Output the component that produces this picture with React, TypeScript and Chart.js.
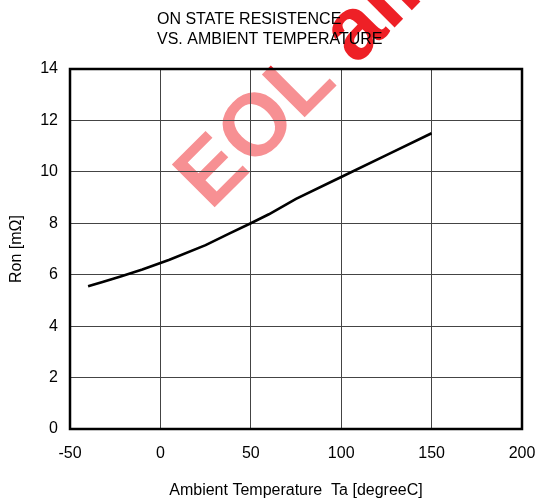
import { useEffect, useRef } from "react";
import { Chart, registerables } from "chart.js";

Chart.register(...registerables);

// Ron versus ambient temperature
const temperatures = [-40, -32, -22, -10, 5, 25, 38, 50, 60, 75, 100, 125, 150];
const ronValues = [5.55, 5.72, 5.93, 6.2, 6.58, 7.15, 7.6, 8.0, 8.35, 8.95, 9.8, 10.65, 11.5];

const xTickValues = [-50, 0, 50, 100, 150, 200];
const yTickValues = [0, 2, 4, 6, 8, 10, 12, 14];

const titleLines = ["ON STATE RESISTENCE", "VS. AMBIENT TEMPERATURE"];
const xAxisTitle = "Ambient Temperature  Ta [degreeC]";
const yAxisTitle = "Ron [mΩ]";
const watermarkText = "EOL all";

const FONT = '"Liberation Sans", Arial, Helvetica, sans-serif';

// Red stamp behind the plot, washed out inside the plot area
const backdropPlugin = {
  id: "backdrop",
  beforeDraw(chart: any) {
    const { ctx, chartArea } = chart;
    ctx.save();
    ctx.fillStyle = "#ffffff";
    ctx.fillRect(0, 0, chart.width, chart.height);
    ctx.translate(210.5, 211.5);
    ctx.rotate(-Math.PI / 4);
    ctx.font = `bold 88px ${FONT}`;
    ctx.fillStyle = "rgb(238, 32, 38)";
    ctx.textAlign = "left";
    ctx.textBaseline = "alphabetic";
    ctx.fillText(watermarkText, 0, 0);
    ctx.restore();

    ctx.save();
    ctx.fillStyle = "rgba(255,255,255,0.5)";
    ctx.fillRect(
      chartArea.left,
      chartArea.top,
      chartArea.right - chartArea.left,
      chartArea.bottom - chartArea.top
    );
    ctx.restore();
  },
};

// Heavy frame around the plot and the two-line heading
const framePlugin = {
  id: "frameAndHeading",
  afterDraw(chart: any) {
    const { ctx, chartArea } = chart;
    ctx.save();
    ctx.strokeStyle = "#000000";
    ctx.lineWidth = 2.5;
    ctx.strokeRect(
      chartArea.left,
      chartArea.top,
      chartArea.right - chartArea.left,
      chartArea.bottom - chartArea.top
    );
    ctx.fillStyle = "#000000";
    ctx.font = `16px ${FONT}`;
    ctx.textAlign = "left";
    ctx.textBaseline = "alphabetic";
    titleLines.forEach((line, i) => {
      ctx.fillText(line, 157, 23.5 + i * 20.5);
    });
    ctx.restore();
  },
};

export default function App() {
  const canvasRef = useRef<HTMLCanvasElement | null>(null);

  useEffect(() => {
    const canvas = canvasRef.current;
    if (!canvas) return;

    const points = temperatures.map((t, i) => ({ x: t, y: ronValues[i] }));

    const chart = new Chart(canvas, {
      type: "line",
      data: {
        datasets: [
          {
            data: points,
            borderColor: "#000000",
            borderWidth: 2.6,
            pointRadius: 0,
            tension: 0,
            fill: false,
          },
        ],
      },
      options: {
        responsive: false,
        animation: false,
        events: [],
        layout: { padding: { left: 0, top: 69, right: 16, bottom: 0 } },
        plugins: {
          legend: { display: false },
          tooltip: { enabled: false },
          title: { display: false },
        },
        scales: {
          x: {
            type: "linear",
            min: -50,
            max: 200,
            afterBuildTicks: (scale: any) => {
              scale.ticks = xTickValues.map((v) => ({ value: v }));
            },
            afterFit: (scale: any) => {
              scale.height = 72;
              scale.paddingLeft = 0;
              scale.paddingRight = 0;
            },
            border: { display: false },
            grid: { color: "#444444", lineWidth: 1, drawTicks: false },
            ticks: {
              padding: 15,
              color: "#000000",
              maxRotation: 0,
              autoSkip: false,
              font: { family: FONT, size: 16 },
            },
            title: {
              display: true,
              text: xAxisTitle,
              color: "#000000",
              font: { family: FONT, size: 16 },
              padding: { top: 0, bottom: 1 },
            },
          },
          y: {
            type: "linear",
            min: 0,
            max: 14,
            afterBuildTicks: (scale: any) => {
              scale.ticks = yTickValues.map((v) => ({ value: v }));
            },
            afterFit: (scale: any) => {
              scale.width = 70;
              scale.paddingTop = 0;
              scale.paddingBottom = 0;
            },
            border: { display: false },
            grid: { color: "#444444", lineWidth: 1, drawTicks: false },
            ticks: {
              padding: 12,
              color: "#000000",
              autoSkip: false,
              font: { family: FONT, size: 16 },
            },
            title: {
              display: true,
              text: yAxisTitle,
              color: "#000000",
              font: { family: FONT, size: 16 },
              padding: { top: 7, bottom: 0 },
            },
          },
        },
      },
      plugins: [backdropPlugin, framePlugin],
    });

    return () => chart.destroy();
  }, []);

  return (
    <div style={{ position: "absolute", left: 0, top: 0, width: 538, height: 501, background: "#fff" }}>
      <canvas ref={canvasRef} width={538} height={501} style={{ display: "block" }} />
    </div>
  );
}
